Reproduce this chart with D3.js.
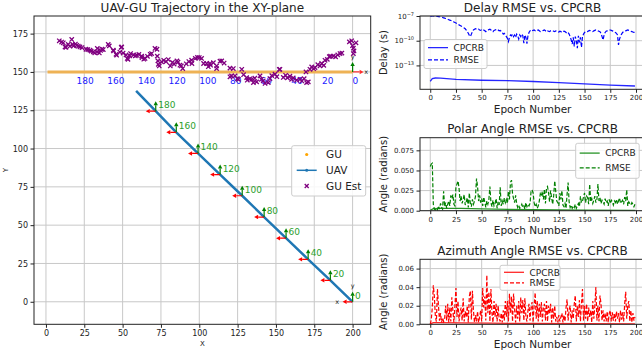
<!DOCTYPE html>
<html><head><meta charset="utf-8">
<script src="https://cdn.jsdelivr.net/npm/d3@7"></script>
<style>
body{margin:0;background:#fff;}
text{font-family:"DejaVu Sans",sans-serif;}
</style></head><body>
<svg id="c" width="642" height="356"></svg>
<script>
// ---------------- DATA ----------------
const xyTicksX = [0,25,50,75,100,125,150,175,200];
const xyTicksY = [0,25,50,75,100,125,150,175];
const epochTicks = [0,25,50,75,100,125,150,175,200];
const delayTickExp = [-13,-10,-7];
const polarTicks = [0,0.025,0.05,0.075];
const polarTickLabels = ["0.000","0.025","0.050","0.075"];
const aziTicks = [0,0.02,0.04,0.06];
const aziTickLabels = ["0.00","0.02","0.04","0.06"];

// GU true track (endpoints) and its epoch labels
const guLineX = [1,200];
const guLineY = [150,150];
const guLabelEpoch = [0,20,40,60,80,100,120,140,160,180];
const guLabelX = [200,180,160,140,120,100,80,60,40,20];

// UAV waypoints (epoch, x, y)
const uavEpoch = [0,20,40,60,80,100,120,140,160,180,199];
const uavX = [200,185.5,171,156.6,142.3,128,113.6,99.2,85,71.6,58.8];
const uavY = [0,14,27.7,41.5,55.3,69.2,83,96.8,110.6,124.4,137.7];

// GU estimates
const guEstX = [8.7,10.2,11.3,12.4,13,14.5,15.6,16.8,17.4,18,19.2,20,21.1,22.2,23.5,26.1,27.3,28.7,29.5,30.9,31.8,33.3,33.5,34.8,35.6,36.5,37.4,40.6,41.3,43.9,44.1,45.7,46.1,48.2,49.1,49.4,50.3,52.2,53,53.5,54.6,55.2,57.1,58.3,59.2,60.6,62.4,62.6,63.8,64.6,66.2,68,68.9,71.1,72.4,72.6,73,73.3,73.9,75.4,76.8,78.3,79.8,81.1,82.5,83.6,85.4,86.1,87.4,88.3,89.2,91.5,93.2,95,95.2,97.4,98.8,100,101.5,102.8,104.8,105.9,107,107.4,109.2,111.3,111.3,113.5,114.6,116.2,120,120,121,122.2,123.3,124.8,125.5,127.7,128.9,130.9,131.3,133,134.2,135.3,136.2,137.4,139.6,140.5,141.7,142.9,145,146.1,147.3,149.4,150.6,152.2,152.6,154.8,156.3,157.5,159.1,160.2,161.3,163.5,165.7,166.9,168.4,169.6,170,171.1,172.2,173.3,174.6,175.5,177.3,178.7,179.8,181.2,182,183.5,184.8,185.6,187.4,188.9,190.3,191.8,193,197.9,199.4,200.5,200.9,202.2,199.9,200.5];
const guEstY = [170.3,169.5,169,166.3,166,168,166.8,171.2,168,167,168.2,167.4,166.8,166.3,165.9,164.8,164.6,164.2,163.6,163.1,162.5,163,165.3,162.4,164,164.8,164.6,168,167,164.2,163.7,161.5,160.9,163,166,166.3,162.3,161.1,158.8,158.2,160.5,162,161.1,160.5,160.9,161.4,160.3,159.4,158.3,158.8,160.2,161.5,162,165.3,164.8,160.3,157.2,155,153.9,156.6,157.6,156.8,158.1,153.9,156.2,155.1,157.2,156.4,154.4,153.9,152.2,155.3,156.8,157.7,155.5,158.8,159.5,159.4,158.8,155.5,155.5,153.4,155.5,154.4,156,153.9,152.2,157,157.2,155.8,152.5,146.8,147.4,152.2,147.4,145.7,145.2,151.7,148.2,146.3,144.6,145.5,145.2,143,145.9,143.5,147.4,145.2,144.2,142.5,143,145.7,147.6,148.5,146.9,151.6,151.7,146.4,147.8,146.1,147.2,145.2,146.1,144.6,145.2,144.1,145.6,150,143,143.5,151.7,153.3,152.1,152.8,154.7,153.9,155.5,154.3,157.6,158.2,160,160.3,160.3,159.9,161.1,162,162.3,169.6,170.3,165.5,163.7,169,167.1,162];

// Delay (log10 of seconds), epochs 0..199
const delayRmseExp = [
-7.02,-7.01,-7.0,-7.0,-7.01,-7.02,-7.03,-7.05,-7.07,-7.09,
-7.12,-7.15,-7.18,-7.22,-7.26,-7.3,-7.35,-7.4,-7.45,-7.5,
-7.55,-7.6,-7.66,-7.72,-7.78,-7.85,-7.92,-8.0,-8.08,-8.15,
-8.22,-8.3,-8.38,-8.45,-8.55,-8.7,-8.9,-9.1,-9.35,-9.5,
-9.2,-8.9,-8.7,-8.6,-8.55,-8.6,-8.65,-8.6,-8.7,-8.75,
-8.65,-8.6,-8.7,-8.8,-8.9,-8.75,-8.7,-8.65,-8.6,-8.7,
-8.8,-8.9,-8.75,-8.7,-8.65,-8.6,-8.7,-8.8,-8.75,-8.85,
-9.0,-9.2,-9.1,-9.3,-9.5,-9.7,-10.1,-9.6,-9.3,-9.4,
-9.2,-9.5,-9.3,-9.6,-9.2,-9.4,-9.8,-9.3,-9.5,-9.2,
-9.4,-10.3,-9.3,-9.6,-10.35,-9.4,-9.0,-8.8,-8.7,-8.8,
-8.75,-8.7,-8.8,-8.85,-8.75,-8.7,-8.8,-8.9,-8.85,-8.8,
-8.75,-8.7,-8.8,-8.9,-8.8,-8.85,-8.9,-8.8,-8.75,-8.8,
-8.85,-8.9,-8.8,-8.85,-8.9,-8.95,-8.85,-8.9,-9.0,-8.9,
-8.85,-8.9,-9.0,-9.1,-9.0,-9.2,-9.5,-9.9,-10.4,-9.6,
-10.7,-9.5,-10.0,-10.9,-9.4,-10.2,-9.6,-10.8,-9.5,-9.2,
-9.0,-8.9,-8.85,-8.9,-8.8,-8.75,-8.8,-8.85,-8.9,-8.8,
-8.75,-8.7,-8.75,-8.8,-8.85,-8.9,-9.1,-9.5,-9.9,-9.3,
-9.0,-8.85,-8.8,-8.75,-8.7,-8.7,-8.75,-8.8,-8.85,-8.9,
-9.0,-9.1,-9.3,-10.5,-9.8,-9.4,-9.2,-9.0,-8.9,-8.85,
-8.8,-8.75,-8.7,-8.75,-8.8,-8.85,-8.9,-8.95,-9.0,-9.0];
const delayCrbEpoch = [0,2,5,10,25,50,75,100,125,150,175,199];
const delayCrbExp = [-14.95,-14.6,-14.53,-14.55,-14.7,-14.8,-14.85,-14.95,-15.1,-15.25,-15.4,-15.5];

// Polar angle RMSE (x1e-3 rad), epochs 0..199
const polarRmse = [
55,58,59,8,2,1,3,1,6,2,
9,4,2,24,5,10,3,8,12,6,
19,15,20,8,6,30,33,37,28,12,
18,9,14,20,7,11,16,4,22,9,
5,14,8,12,18,40,30,12,19,10,
15,6,17,11,4,12,8,14,30,10,
5,13,6,9,15,3,11,7,29,6,
12,8,16,10,14,9,24,14,35,38,
21,15,10,19,9,4,7,3,5,8,
4,6,2,10,5,8,6,9,24,26,
22,10,5,8,3,6,12,21,18,24,
14,27,9,28,30,22,11,25,16,8,
19,37,24,12,10,6,22,14,25,7,
5,9,3,20,35,11,4,7,3,6,
4,8,3,6,9,5,18,10,12,17,
22,10,18,16,8,33,11,15,9,13,
18,10,14,33,12,16,9,13,11,8,
15,10,12,6,14,9,13,11,7,12,
10,14,8,12,16,9,11,13,8,17,
12,26,6,11,9,7,10,8,5,8];
const polarCrbEpoch = [0,3,10,30,50,75,100,150,199];
const polarCrb = [0.5,2.5,3,2.8,2.3,1.6,1.2,0.8,0.5];

// Azimuth angle RMSE (x1e-3 rad), epochs 0..199
const aziRmse = [
0,5,18,42,30,8,3,38,20,4,
12,2,7,3,6,20,4,22,2,18,
3,29,15,2,20,39,8,25,3,12,
18,4,28,3,14,8,20,2,30,36,
5,36,15,2,10,3,14,2,8,15,
3,39,18,30,4,53,12,35,3,38,
12,2,25,8,22,3,20,6,3,12,
2,15,4,25,8,25,3,33,12,30,
3,33,16,2,20,6,25,3,29,12,
26,4,28,8,3,15,22,4,18,24,
2,20,34,6,25,3,22,8,24,3,
18,22,4,25,3,20,12,22,2,18,
6,20,3,8,2,10,3,8,12,2,
10,3,18,27,4,15,20,2,15,6,
22,31,3,20,8,26,3,22,38,4,
20,6,22,3,18,8,15,2,25,6,
20,40,4,20,3,31,22,4,15,3,
12,3,14,2,12,15,3,13,4,12,
3,14,6,12,2,15,5,13,3,22,
35,6,20,25,3,15,2,12,4,8];
const aziCrbEpoch = [0,3,10,30,60,100,150,199];
const aziCrb = [0.5,1.8,1.8,1.5,1.2,0.9,0.7,0.5];

// ---------------- DRAW ----------------
const svg = d3.select("#c");
const FONT = '"DejaVu Sans", sans-serif';
const GRID = "#c8c8c8";

// ===== Main XY plot =====
const mL=34, mR=370.7, mT=16, mB=324.3;
const mx = d3.scaleLinear().domain([-7.8,211.8]).range([mL,mR]);
const my = d3.scaleLinear().domain([-14.7,186.5]).range([mB,mT]);

svg.append("defs").append("clipPath").attr("id","clipMain")
  .append("rect").attr("x",mL).attr("y",mT).attr("width",mR-mL).attr("height",mB-mT);

const gMain = svg.append("g");
const grid = gMain.append("g");
grid.selectAll("line.vx").data(xyTicksX).join("line")
  .attr("x1",d=>mx(d)).attr("x2",d=>mx(d)).attr("y1",mT).attr("y2",mB)
  .attr("stroke",GRID).attr("stroke-width",1);
grid.selectAll("line.hy").data(xyTicksY).join("line")
  .attr("y1",d=>my(d)).attr("y2",d=>my(d)).attr("x1",mL).attr("x2",mR)
  .attr("stroke",GRID).attr("stroke-width",1);

const plot = gMain.append("g").attr("clip-path","url(#clipMain)");
// GU track (orange)
plot.append("line")
  .attr("x1",mx(guLineX[0])).attr("x2",mx(guLineX[1]))
  .attr("y1",my(guLineY[0])).attr("y2",my(guLineY[1]))
  .attr("stroke","#eeb255").attr("stroke-width",3);

// GU labels (blue)
plot.selectAll("text.gul").data(guLabelEpoch).join("text")
  .attr("x",(d,i)=>mx(guLabelX[i])).attr("y",my(150)+12.5)
  .attr("font-size",9).attr("fill","#1a1aff").text(d=>d);

// UAV line
const uavPts = uavEpoch.map((e,i)=>[uavX[i],uavY[i]]);
plot.append("path").datum(uavPts)
  .attr("d",d3.line().x(d=>mx(d[0])).y(d=>my(d[1])))
  .attr("fill","none").attr("stroke","#1f77b4").attr("stroke-width",2.5);

function arrow(g,x1,y1,x2,y2,color){
  const dx=x2-x1, dy=y2-y1, L=Math.hypot(dx,dy), ux=dx/L, uy=dy/L;
  const hl=4, hw=2.2;
  const bx=x2-ux*hl, by=y2-uy*hl;
  g.append("line").attr("x1",x1).attr("y1",y1).attr("x2",bx).attr("y2",by)
    .attr("stroke",color).attr("stroke-width",1.2);
  g.append("path").attr("d",`M${x2},${y2}L${bx-uy*hw},${by+ux*hw}L${bx+uy*hw},${by-ux*hw}Z`)
    .attr("fill",color);
}
// UAV body frames at labelled epochs
for(let i=0;i<uavEpoch.length-1;i++){
  const px=mx(uavX[i]), py=my(uavY[i]);
  arrow(plot,px,py,px-10,py,"#ff0000");
  arrow(plot,px,py,px,py-10,"#008000");
  plot.append("text").attr("x",px+2.5).attr("y",py-3).attr("font-size",9)
    .attr("fill","#2ca02c").text(uavEpoch[i]);
}
// axis letters at epoch 0 (UAV) and GU frame
{
  const px=mx(uavX[0]), py=my(uavY[0]);
  plot.append("text").attr("x",px).attr("y",py-14).attr("font-size",6.5)
    .attr("text-anchor","middle").attr("fill","#111").text("y");
  plot.append("text").attr("x",px-15.5).attr("y",py+2.3).attr("font-size",6.5)
    .attr("text-anchor","middle").attr("fill","#111").text("x");
  const gx=mx(guLabelX[0]), gy=my(150);
  arrow(plot,gx,gy,gx+11,gy,"#ff3030");
  arrow(plot,gx,gy,gx,gy-10,"#008000");
  plot.append("text").attr("x",gx).attr("y",gy-13).attr("font-size",6.5)
    .attr("text-anchor","middle").attr("fill","#111").text("y");
  plot.append("text").attr("x",gx+13.5).attr("y",gy+2.3).attr("font-size",6.5)
    .attr("text-anchor","middle").attr("fill","#111").text("x");
}
// GU estimates
plot.selectAll("path.est").data(guEstX).join("path")
  .attr("transform",(d,i)=>`translate(${mx(d)},${my(guEstY[i])})`)
  .attr("d",d3.symbol(d3.symbolTimes,14)())
  .attr("stroke","#800080").attr("stroke-width",1.3).attr("fill","none");

// spines
gMain.append("rect").attr("x",mL).attr("y",mT).attr("width",mR-mL).attr("height",mB-mT)
  .attr("fill","none").attr("stroke","#222").attr("stroke-width",1);

function styleAxis(g,fs){
  g.select(".domain").remove();
  g.selectAll(".tick line").attr("stroke","#222");
  g.selectAll(".tick text").attr("font-size",fs).attr("fill","#222").attr("font-family",FONT);
}
const axX = gMain.append("g").attr("transform",`translate(0,${mB})`)
  .call(d3.axisBottom(mx).tickValues(xyTicksX).tickSize(3.5).tickPadding(2.5));
styleAxis(axX,8);
const axY = gMain.append("g").attr("transform",`translate(${mL},0)`)
  .call(d3.axisLeft(my).tickValues(xyTicksY).tickSize(3.5).tickPadding(2.5));
styleAxis(axY,8);

svg.append("text").attr("x",(mL+mR)/2).attr("y",12).attr("text-anchor","middle")
  .attr("font-size",12).attr("fill","#222").text("UAV-GU Trajectory in the XY-plane");
svg.append("text").attr("x",(mL+mR)/2).attr("y",346).attr("text-anchor","middle")
  .attr("font-size",7).attr("fill","#222").text("X");
svg.append("text").attr("transform",`translate(8,${(mT+mB)/2}) rotate(-90)`)
  .attr("text-anchor","middle").attr("font-size",7).attr("fill","#222").text("Y");

// main legend
{
  const lg = svg.append("g");
  lg.append("rect").attr("x",291.7).attr("y",145.7).attr("width",74).attr("height",50.3)
    .attr("rx",2).attr("fill","#fff").attr("fill-opacity",0.85).attr("stroke","#cccccc");
  const rows=[154.5,170.3,186];
  lg.append("circle").attr("cx",306.7).attr("cy",rows[0]).attr("r",1.6).attr("fill","#ffa500");
  lg.append("line").attr("x1",296.7).attr("x2",316.7).attr("y1",rows[1]).attr("y2",rows[1])
    .attr("stroke","#1f77b4").attr("stroke-width",1.5);
  lg.append("circle").attr("cx",306.7).attr("cy",rows[1]).attr("r",1.5).attr("fill","#1f77b4");
  lg.append("path").attr("transform",`translate(306.7,${rows[2]})`)
    .attr("d",d3.symbol(d3.symbolTimes,12)()).attr("stroke","#800080").attr("stroke-width",1.3).attr("fill","none");
  ["GU","UAV","GU Est"].forEach((t,i)=>lg.append("text").attr("x",326).attr("y",rows[i]+3.8)
    .attr("font-size",10.5).attr("fill","#222").text(t));
}

// ===== Right panels =====
const rL=420, rR=645.2;
const rx = d3.scaleLinear().domain([-9.95,208.95]).range([rL,rR]);
const epochs = d3.range(delayRmseExp.length);

function panel(cfg){
  const {top,bottom,id} = cfg;
  svg.select("defs").append("clipPath").attr("id",id)
    .append("rect").attr("x",rL).attr("y",top).attr("width",rR-rL).attr("height",bottom-top);
  const g = svg.append("g");
  g.selectAll("line.gx").data(epochTicks).join("line")
    .attr("x1",d=>rx(d)).attr("x2",d=>rx(d)).attr("y1",top).attr("y2",bottom)
    .attr("stroke",GRID).attr("stroke-width",1);
  g.selectAll("line.gy").data(cfg.yTicks).join("line")
    .attr("y1",d=>cfg.y(d)).attr("y2",d=>cfg.y(d)).attr("x1",rL).attr("x2",rR)
    .attr("stroke",GRID).attr("stroke-width",1);
  const p = g.append("g").attr("clip-path",`url(#${id})`);
  p.append("path").datum(cfg.crb)
    .attr("d",d3.line().x(d=>rx(d[0])).y(d=>cfg.y(d[1])))
    .attr("fill","none").attr("stroke",cfg.color).attr("stroke-width",1.3).attr("stroke-opacity",0.85);
  p.append("path").datum(cfg.rmse)
    .attr("d",d3.line().x(d=>rx(d[0])).y(d=>cfg.y(d[1])))
    .attr("fill","none").attr("stroke",cfg.color).attr("stroke-width",1.2)
    .attr("stroke-dasharray","4,2");
  g.append("rect").attr("x",rL).attr("y",top).attr("width",rR-rL).attr("height",bottom-top)
    .attr("fill","none").attr("stroke","#222").attr("stroke-width",1);
  const ax = g.append("g").attr("transform",`translate(0,${bottom})`)
    .call(d3.axisBottom(rx).tickValues(epochTicks).tickSize(3.5).tickPadding(2.5));
  styleAxis(ax,7);
  const ay = g.append("g").attr("transform",`translate(${rL},0)`)
    .call(d3.axisLeft(cfg.y).tickValues(cfg.yTicks).tickSize(3.5).tickPadding(2.5)
      .tickFormat((d,i)=>cfg.yLabels ? cfg.yLabels[i] : ""));
  styleAxis(ay,7);
  if(cfg.logLabels){
    ay.selectAll(".tick text").each(function(d,i){
      const t=d3.select(this); t.text(null);
      t.append("tspan").text("10");
      t.append("tspan").attr("dy",-3).attr("font-size",5).text("\u2212"+(-cfg.logLabels[i]));
    });
  }
  svg.append("text").attr("x",(rL+rR)/2).attr("y",top-4.5).attr("text-anchor","middle")
    .attr("font-size",12).attr("fill","#222").text(cfg.title);
  svg.append("text").attr("x",(rL+rR)/2).attr("y",bottom+23.5).attr("text-anchor","middle")
    .attr("font-size",10.5).attr("fill","#222").text("Epoch Number");
  svg.append("text").attr("transform",`translate(387,${(top+bottom)/2}) rotate(-90)`)
    .attr("text-anchor","middle").attr("font-size",10).attr("fill","#222").text(cfg.ylabel);
  // legend
  const L=cfg.leg;
  const lg=svg.append("g");
  lg.append("rect").attr("x",L.x).attr("y",L.y).attr("width",L.w).attr("height",L.h)
    .attr("rx",2).attr("fill","#fff").attr("fill-opacity",0.85).attr("stroke","#cccccc");
  const r1=L.y+L.h*0.28, r2=L.y+L.h*0.7;
  lg.append("line").attr("x1",L.x+4).attr("x2",L.x+24).attr("y1",r1).attr("y2",r1)
    .attr("stroke",cfg.color).attr("stroke-width",1.3).attr("stroke-opacity",0.85);
  lg.append("line").attr("x1",L.x+4).attr("x2",L.x+24).attr("y1",r2).attr("y2",r2)
    .attr("stroke",cfg.color).attr("stroke-width",1.2).attr("stroke-dasharray","4,2");
  lg.append("text").attr("x",L.x+29.5).attr("y",r1+3.2).attr("font-size",9).attr("fill","#222").text("CPCRB");
  lg.append("text").attr("x",L.x+29.5).attr("y",r2+3.2).attr("font-size",9).attr("fill","#222").text("RMSE");
}

// Delay
const yD = d3.scaleLog().domain([Math.pow(10,-15.9),1e-7]).range([89.3,16]);
panel({id:"cD",top:16,bottom:89.3,y:yD,
  yTicks:delayTickExp.map(e=>Math.pow(10,e)),yLabels:delayTickExp.map(e=>"x"),logLabels:delayTickExp,
  color:"#0000ff",title:"Delay RMSE vs. CPCRB",ylabel:"Delay (s)",
  rmse:epochs.map(i=>[i,Math.pow(10,delayRmseExp[i])]),
  crb:delayCrbEpoch.map((e,i)=>[e,Math.pow(10,delayCrbExp[i])]),
  leg:{x:424,y:39.5,w:63,h:29}});

// Polar
const yP = d3.scaleLinear().domain([0,0.0907]).range([210.7,137.7]);
panel({id:"cP",top:137.7,bottom:210.7,y:yP,yTicks:polarTicks,yLabels:polarTickLabels,
  color:"#008000",title:"Polar Angle RMSE vs. CPCRB",ylabel:"Angle (radians)",
  rmse:epochs.map(i=>[i,polarRmse[i]/1000]),
  crb:polarCrbEpoch.map((e,i)=>[e,polarCrb[i]/1000]),
  leg:{x:575.7,y:143.3,w:63.5,h:35}});

// Azimuth
const yA = d3.scaleLinear().domain([0,0.070]).range([324.3,259.3]);
panel({id:"cA",top:259.3,bottom:324.3,y:yA,yTicks:aziTicks,yLabels:aziTickLabels,
  color:"#ff0000",title:"Azimuth Angle RMSE vs. CPCRB",ylabel:"Angle (radians)",
  rmse:epochs.map(i=>[i,aziRmse[i]/1000]),
  crb:aziCrbEpoch.map((e,i)=>[e,aziCrb[i]/1000]),
  leg:{x:500,y:265.3,w:60,h:25}});
</script>
</body></html>
